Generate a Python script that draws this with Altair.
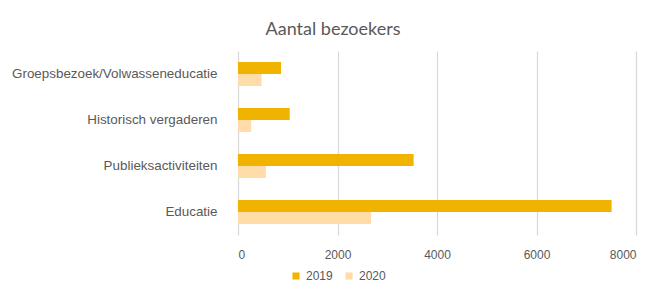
import altair as alt
import pandas as pd

categories = ["Groepsbezoek/Volwasseneducatie", "Historisch vergaderen", "Publieksactiviteiten", "Educatie"]
years = ["2019", "2020"]
values_2019 = [865, 1040, 3530, 7510]
values_2020 = [475, 265, 560, 2675]
x_ticks = [0, 2000, 4000, 6000, 8000]
colors = ["#F0B400", "#FFDCA8"]

rows = []
for c, v in zip(categories, values_2019):
    rows.append({"cat": c, "year": "2019", "value": v})
for c, v in zip(categories, values_2020):
    rows.append({"cat": c, "year": "2020", "value": v})
df = pd.DataFrame(rows)

grey = "#595959"

chart = alt.Chart(df).mark_bar().encode(
    x=alt.X("value:Q", scale=alt.Scale(domain=[0, 8000], nice=False),
            axis=alt.Axis(values=x_ticks, title=None, domain=False, ticks=False, format="d",
                          grid=True, gridColor="#d9d9d9", gridWidth=1.3,
                          labelColor=grey, labelFontSize=12, labelFont="Liberation Sans",
                          labelPadding=14)),
    y=alt.Y("cat:N", sort=categories,
            scale=alt.Scale(paddingInner=0.48, paddingOuter=0.24),
            axis=alt.Axis(title=None, domain=False, ticks=False, labelColor=grey,
                          labelFontSize=13.4, labelFont="Liberation Sans", labelPadding=21,
                          labelLimit=300)),
    yOffset=alt.YOffset("year:N", sort=years),
    color=alt.Color("year:N", sort=years,
                    scale=alt.Scale(domain=years, range=colors),
                    legend=alt.Legend(title=None, orient="none", direction="horizontal",
                                      legendX=52, legendY=219, symbolType="square",
                                      symbolSize=50, symbolStrokeWidth=0,
                                      labelColor=grey, labelFontSize=12,
                                      labelFont="Liberation Sans", columnPadding=10,
                                      labelOffset=4)),
).properties(
    width=398,
    height=184,
    title=alt.TitleParams("Aantal bezoekers", anchor="middle", dx=-104, offset=12,
                          fontSize=18, font="Lato", fontWeight="normal", color=grey),
    autosize=alt.AutoSizeParams(type="none"),
    padding={"left": 230, "top": 43, "right": 7, "bottom": 47},
).configure_view(stroke=None)

chart.save("out.html", embed_options={"renderer": "svg", "actions": False})
